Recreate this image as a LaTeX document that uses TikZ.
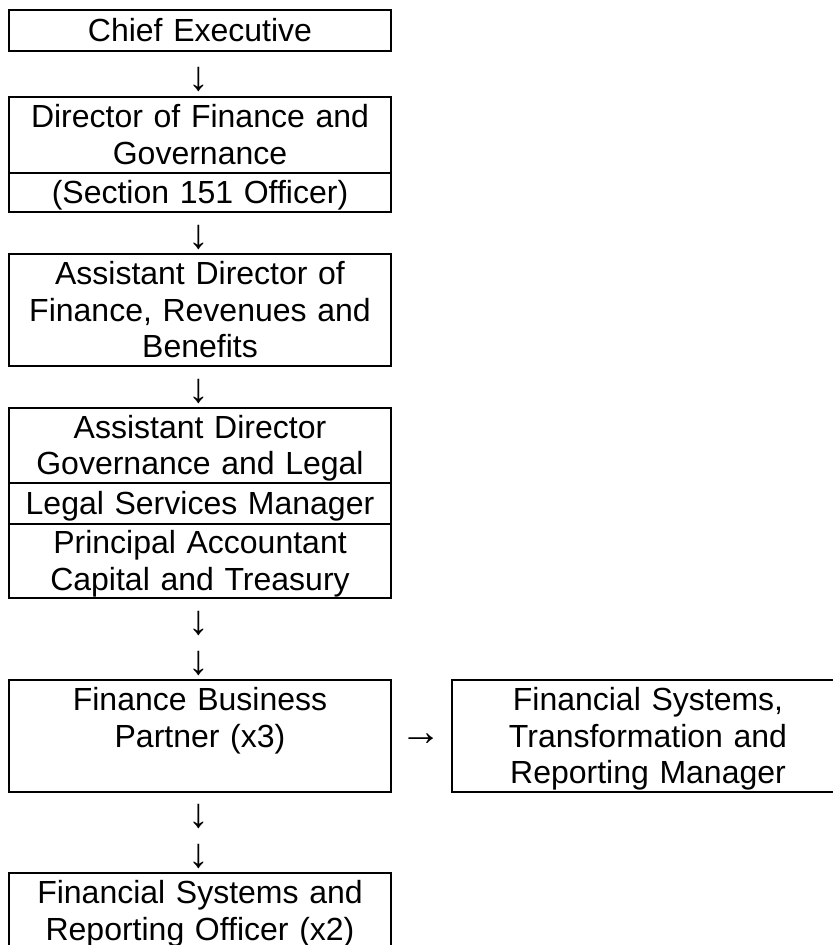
\documentclass[tikz,border=0pt]{standalone}
\usepackage{fontspec}
\setmainfont{Liberation Sans}
\begin{document}
\begin{tikzpicture}[x=0.75pt,y=-0.75pt,
  orgbox/.style={draw=black, line width=0.9pt, inner sep=0pt, minimum width=286.5pt,
    text width=282pt, align=center, font=\fontsize{24}{27.6}\selectfont, text height=21.72pt},
  one/.style={text depth=5.09pt},
  two/.style={text depth=32.69pt},
  three/.style={text depth=60.29pt},
  arr/.style={inner sep=0pt, font=\fontsize{31}{33}\selectfont}]
\useasboundingbox (0,0) rectangle (832,945);
% left column
\node[orgbox, one, minimum height=30.75pt] (ce) at (200,30.5) {Chief Executive};
\node[orgbox, two, minimum height=57pt] (dfg) at (200,135) {Director of Finance and\\Governance};
\node[orgbox, one, minimum height=29.25pt] (s151) at (200,192.5) {(Section 151 Officer)};
\node[orgbox, three, minimum height=84pt] (adf) at (200,310) {Assistant Director of\\Finance, Revenues and\\Benefits};
\node[orgbox, two, minimum height=56.25pt] (adg) at (200,445.5) {Assistant Director\\Governance and Legal};
\node[orgbox, one, minimum height=30.75pt] (lsm) at (200,503.5) {Legal Services Manager};
\node[orgbox, two, minimum height=55.5pt] (pac) at (200,561) {Principal Accountant\\Capital and Treasury};
\node[orgbox, three, minimum height=84pt] (fbp) at (200,736) {Finance Business\\Partner (x3)};
\node[orgbox, three, minimum height=84pt, minimum width=294pt] (fstr) at (648,736) {Financial Systems,\\Transformation and\\Reporting Manager};
\node[orgbox, two, minimum height=57pt] (fsro) at (200,911) {Financial Systems and\\Reporting Officer (x2)};
% arrow glyphs
\node[arr] (a1) at (199,79.5) {↓};
\node[arr] (a2) at (199,237.5) {↓};
\node[arr] (a3) at (199,391.5) {↓};
\node[arr] (a4) at (199,623.5) {↓};
\node[arr] (a5) at (199,663.5) {↓};
\node[arr] (a6) at (199,816.5) {↓};
\node[arr] (a7) at (199,856.5) {↓};
\node[arr] (ar) at (421,740) {→};
\end{tikzpicture}
\end{document}
